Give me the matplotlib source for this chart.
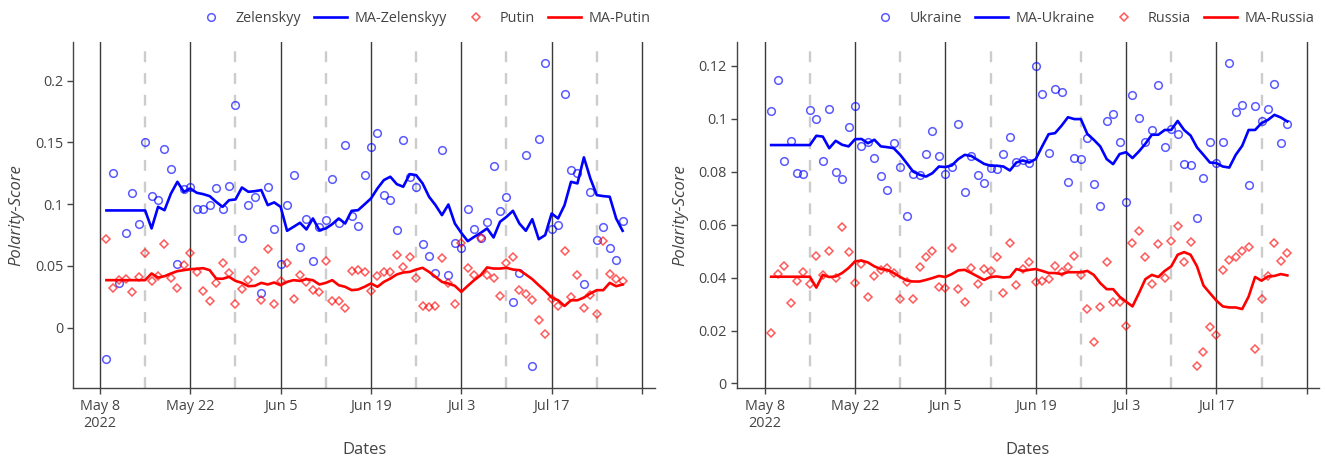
import matplotlib
matplotlib.use('Agg')
import matplotlib.pyplot as plt
import pandas as pd
from matplotlib.ticker import FuncFormatter

plt.rcParams['font.family'] = ['Open Sans', 'DejaVu Sans']

# daily scores, May 9 - Jul 28 2022
dates = pd.date_range('2022-05-09', '2022-07-28', freq='D')

zelenskyy = [-0.0257, 0.1254, 0.0362, 0.0770, 0.1092, 0.0838, 0.1500, 0.1067, 0.1030, 0.1449,
             0.1286, 0.0516, 0.1119, 0.1140, 0.0959, 0.0962, 0.0992, 0.1132, 0.0959, 0.1146,
             0.1800, 0.0727, 0.0994, 0.1057, 0.0276, 0.1135, 0.0795, 0.0513, 0.0997, 0.1238,
             0.0649, 0.0878, 0.0540, 0.0811, 0.0870, 0.1205, 0.0846, 0.1476, 0.0903, 0.0824,
             0.1235, 0.1465, 0.1573, 0.1073, 0.1032, 0.0789, 0.1519, 0.1221, 0.1140, 0.0675,
             0.0578, 0.0438, 0.1438, 0.0427, 0.0686, 0.0641, 0.0957, 0.0797, 0.0722, 0.0854,
             0.1308, 0.0941, 0.1054, 0.0208, 0.0438, 0.1397, -0.0314, 0.1530, 0.2141, 0.0795,
             0.0835, 0.1892, 0.1276, 0.1254, 0.0351, 0.1100, 0.0708, 0.0816, 0.0641, 0.0551,
             0.0865]
ma_zelenskyy = [0.0949, 0.0949, 0.0949, 0.0949, 0.0949, 0.0949, 0.0949, 0.0803, 0.0978, 0.0951,
                0.1086, 0.1181, 0.1100, 0.1127, 0.1092, 0.1081, 0.1065, 0.1019, 0.0978, 0.1032,
                0.1038, 0.1135, 0.1100, 0.1105, 0.1114, 0.0992, 0.1014, 0.0978, 0.0784, 0.0816,
                0.0849, 0.0795, 0.0884, 0.0789, 0.0803, 0.0838, 0.0884, 0.0843, 0.0946, 0.0951,
                0.0998, 0.1046, 0.1127, 0.1195, 0.1222, 0.1162, 0.1141, 0.1243, 0.1235, 0.1168,
                0.1060, 0.0992, 0.0911, 0.0997, 0.0843, 0.0767, 0.0700, 0.0735, 0.0767, 0.0803,
                0.0730, 0.0857, 0.0897, 0.0946, 0.0843, 0.0784, 0.0878, 0.0716, 0.0749, 0.0924,
                0.0884, 0.0992, 0.1181, 0.1168, 0.1379, 0.1208, 0.1073, 0.1065, 0.1060, 0.0884,
                0.0784]
putin = [0.0716, 0.0321, 0.0384, 0.0397, 0.0284, 0.0411, 0.0608, 0.0378, 0.0419, 0.0676,
         0.0405, 0.0321, 0.0505, 0.0600, 0.0451, 0.0297, 0.0213, 0.0362, 0.0519, 0.0438,
         0.0187, 0.0311, 0.0384, 0.0457, 0.0221, 0.0635, 0.0187, 0.0376, 0.0527, 0.0230,
         0.0424, 0.0370, 0.0303, 0.0284, 0.0540, 0.0216, 0.0213, 0.0162, 0.0457, 0.0470,
         0.0451, 0.0297, 0.0416, 0.0451, 0.0449, 0.0587, 0.0492, 0.0568, 0.0405, 0.0173,
         0.0167, 0.0173, 0.0562, 0.0357, 0.0187, 0.0689, 0.0486, 0.0424, 0.0722, 0.0422,
         0.0405, 0.0254, 0.0519, 0.0573, 0.0308, 0.0270, 0.0227, 0.0059, -0.0054, 0.0235,
         0.0173, 0.0621, 0.0248, 0.0424, 0.0159, 0.0262, 0.0108, 0.0703, 0.0430, 0.0397,
         0.0376]
ma_putin = [0.0384, 0.0384, 0.0384, 0.0384, 0.0384, 0.0384, 0.0384, 0.0438, 0.0405, 0.0416,
            0.0438, 0.0457, 0.0465, 0.0473, 0.0476, 0.0481, 0.0465, 0.0397, 0.0395, 0.0411,
            0.0378, 0.0362, 0.0335, 0.0338, 0.0362, 0.0349, 0.0365, 0.0343, 0.0370, 0.0384,
            0.0378, 0.0392, 0.0384, 0.0349, 0.0362, 0.0384, 0.0343, 0.0330, 0.0303, 0.0308,
            0.0330, 0.0357, 0.0330, 0.0370, 0.0397, 0.0430, 0.0446, 0.0451, 0.0470, 0.0484,
            0.0451, 0.0411, 0.0370, 0.0357, 0.0338, 0.0289, 0.0338, 0.0384, 0.0424, 0.0487,
            0.0478, 0.0478, 0.0484, 0.0470, 0.0465, 0.0430, 0.0392, 0.0343, 0.0297, 0.0243,
            0.0221, 0.0175, 0.0221, 0.0221, 0.0243, 0.0276, 0.0303, 0.0303, 0.0362, 0.0335,
            0.0349]

ukraine = [0.1027, 0.1146, 0.0839, 0.0917, 0.0794, 0.0790, 0.1033, 0.1000, 0.0839, 0.1036,
           0.0799, 0.0771, 0.0970, 0.1048, 0.0897, 0.0913, 0.0853, 0.0785, 0.0731, 0.0906,
           0.0817, 0.0633, 0.0791, 0.0788, 0.0866, 0.0953, 0.0857, 0.0791, 0.0817, 0.0980,
           0.0723, 0.0857, 0.0788, 0.0756, 0.0815, 0.0811, 0.0867, 0.0932, 0.0837, 0.0842,
           0.0834, 0.1199, 0.1092, 0.0870, 0.1112, 0.1102, 0.0760, 0.0851, 0.0847, 0.0926,
           0.0754, 0.0671, 0.0989, 0.1017, 0.0911, 0.0685, 0.1090, 0.1002, 0.0911, 0.0957,
           0.1125, 0.0894, 0.0960, 0.0942, 0.0828, 0.0823, 0.0626, 0.0775, 0.0913, 0.0832,
           0.0910, 0.1209, 0.1023, 0.1051, 0.0749, 0.1048, 0.0991, 0.1037, 0.1132, 0.0907,
           0.0980]
ma_ukraine = [0.0900, 0.0900, 0.0900, 0.0900, 0.0900, 0.0900, 0.0900, 0.0935, 0.0932, 0.0888,
              0.0916, 0.0901, 0.0895, 0.0922, 0.0923, 0.0907, 0.0920, 0.0895, 0.0892, 0.0888,
              0.0863, 0.0832, 0.0800, 0.0788, 0.0781, 0.0794, 0.0819, 0.0817, 0.0823, 0.0847,
              0.0863, 0.0859, 0.0844, 0.0829, 0.0822, 0.0822, 0.0819, 0.0804, 0.0834, 0.0842,
              0.0834, 0.0847, 0.0895, 0.0941, 0.0945, 0.0973, 0.1005, 0.0998, 0.0998, 0.0942,
              0.0920, 0.0895, 0.0847, 0.0828, 0.0866, 0.0873, 0.0851, 0.0876, 0.0905, 0.0939,
              0.0939, 0.0957, 0.0957, 0.0991, 0.0957, 0.0936, 0.0891, 0.0863, 0.0834, 0.0832,
              0.0819, 0.0815, 0.0863, 0.0897, 0.0957, 0.0957, 0.0983, 0.0995, 0.1014, 0.1004,
              0.0989]
russia = [0.0190, 0.0413, 0.0444, 0.0303, 0.0385, 0.0419, 0.0376, 0.0483, 0.0408, 0.0500,
          0.0398, 0.0589, 0.0497, 0.0379, 0.0452, 0.0325, 0.0404, 0.0429, 0.0436, 0.0417,
          0.0318, 0.0383, 0.0320, 0.0438, 0.0478, 0.0502, 0.0366, 0.0359, 0.0513, 0.0356,
          0.0307, 0.0437, 0.0376, 0.0433, 0.0425, 0.0478, 0.0343, 0.0530, 0.0370, 0.0434,
          0.0460, 0.0383, 0.0388, 0.0395, 0.0445, 0.0420, 0.0438, 0.0483, 0.0410, 0.0281,
          0.0155, 0.0287, 0.0457, 0.0306, 0.0309, 0.0218, 0.0530, 0.0576, 0.0479, 0.0375,
          0.0526, 0.0398, 0.0537, 0.0595, 0.0458, 0.0534, 0.0067, 0.0119, 0.0213, 0.0183,
          0.0429, 0.0467, 0.0479, 0.0502, 0.0515, 0.0130, 0.0318, 0.0406, 0.0532, 0.0464,
          0.0492]
ma_russia = [0.0403, 0.0403, 0.0403, 0.0403, 0.0403, 0.0403, 0.0403, 0.0362, 0.0410, 0.0402,
             0.0404, 0.0417, 0.0436, 0.0461, 0.0464, 0.0457, 0.0442, 0.0432, 0.0429, 0.0417,
             0.0402, 0.0389, 0.0385, 0.0385, 0.0391, 0.0398, 0.0406, 0.0402, 0.0413, 0.0427,
             0.0429, 0.0417, 0.0404, 0.0391, 0.0402, 0.0404, 0.0400, 0.0402, 0.0432, 0.0425,
             0.0429, 0.0432, 0.0425, 0.0417, 0.0417, 0.0413, 0.0420, 0.0420, 0.0420, 0.0425,
             0.0410, 0.0379, 0.0356, 0.0356, 0.0328, 0.0309, 0.0291, 0.0341, 0.0394, 0.0410,
             0.0402, 0.0425, 0.0442, 0.0486, 0.0496, 0.0486, 0.0442, 0.0370, 0.0341, 0.0313,
             0.0291, 0.0287, 0.0287, 0.0281, 0.0328, 0.0402, 0.0388, 0.0404, 0.0406, 0.0413,
             0.0408]

# x axis ticks and the weekly guide lines
tick_dates = pd.date_range('2022-05-08', '2022-07-31', freq='14D')
tick_labels = ['May 8\n2022', 'May 22', 'Jun 5', 'Jun 19', 'Jul 3', 'Jul 17', '']
mid_dates = pd.date_range('2022-05-15', '2022-07-24', freq='14D')

left_yticks = [0, 0.05, 0.1, 0.15, 0.2]
right_yticks = [0, 0.02, 0.04, 0.06, 0.08, 0.1, 0.12]

TEXT = '#444444'


def draw_panel(ax, pts_a, ma_a, pts_b, ma_b, name_a, name_b, yticks, ylim, x_start):
    """
        One panel: two scatter series with their moving averages
    """
    for d in tick_dates:
        ax.axvline(d, color='#3a3a3a', lw=1.0, zorder=1)
    for d in mid_dates:
        ax.axvline(d, color='#cccccc', lw=1.7, dashes=(4.6, 4.6), zorder=1)

    ax.plot(dates, pts_a, ls='none', marker='o', ms=5.5, mfc='none',
            mec=(0, 0, 1, 0.65), mew=1.1, label=name_a, zorder=3)
    ax.plot(dates, ma_a, color='#0000ff', lw=1.9, label='MA-' + name_a, zorder=3)
    ax.plot(dates, pts_b, ls='none', marker='D', ms=4.3, mfc='none',
            mec=(1, 0, 0, 0.65), mew=1.1, label=name_b, zorder=3)
    ax.plot(dates, ma_b, color='#ff0000', lw=1.9, label='MA-' + name_b, zorder=3)

    start = pd.Timestamp('2022-05-08') - pd.Timedelta(days=x_start)
    ax.set_xlim(start, start + pd.Timedelta(days=90.2))
    ax.set_ylim(*ylim)

    ax.set_xticks(tick_dates)
    ax.set_xticklabels(tick_labels)
    ax.set_yticks(yticks)
    ax.yaxis.set_major_formatter(FuncFormatter(lambda v, p: '%g' % round(v, 4)))

    for s in ['top', 'right']:
        ax.spines[s].set_visible(False)
    for s in ['left', 'bottom']:
        ax.spines[s].set_color(TEXT)
        ax.spines[s].set_linewidth(1.0)
    ax.tick_params(axis='both', direction='out', length=4, width=1.0, color=TEXT,
                   labelcolor=TEXT, labelsize=10.4)
    ax.tick_params(axis='x', pad=4)
    ax.tick_params(axis='y', pad=3)

    ax.set_xlabel('Dates', fontsize=12, color=TEXT)
    ax.xaxis.set_label_coords(0.5, -0.155)
    ax.set_ylabel('Polarity-Score', fontsize=12, color=TEXT, style='italic')
    ax.yaxis.set_label_coords(-0.084, 0.5)

    ax.legend(loc='center right', bbox_to_anchor=(1.0, 1.069), ncol=4, frameon=False,
              fontsize=10.4, labelcolor=TEXT, handlelength=2.3, handletextpad=0.5,
              columnspacing=0.9, borderaxespad=0, borderpad=0.3)


fig = plt.figure(figsize=(13.25, 4.62), dpi=100)
ax1 = fig.add_axes([73 / 1325, 74 / 462, 582 / 1325, 346 / 462])
ax2 = fig.add_axes([736.7 / 1325, 74 / 462, 582 / 1325, 346 / 462])

draw_panel(ax1, zelenskyy, ma_zelenskyy, putin, ma_putin, 'Zelenskyy', 'Putin',
           left_yticks, (-0.049, 0.2314), 4.18)
draw_panel(ax2, ukraine, ma_ukraine, russia, ma_russia, 'Ukraine', 'Russia',
           right_yticks, (-0.0017, 0.1289), 4.34)

fig.savefig('out.png', dpi=100)
